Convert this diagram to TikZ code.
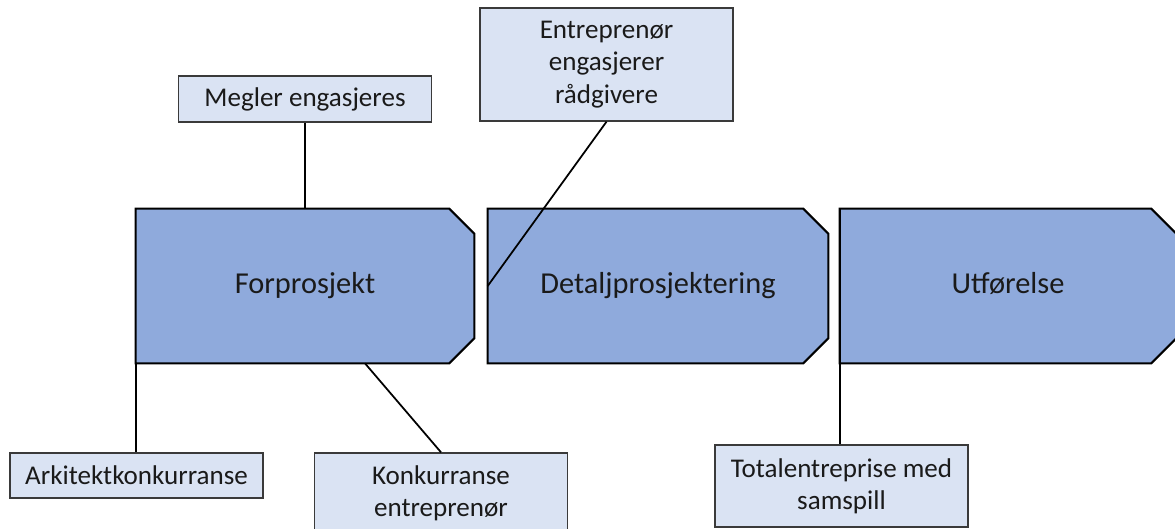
\documentclass[tikz,border=0pt]{standalone}
\usepackage{fontspec}
\setmainfont{Carlito}
\usetikzlibrary{backgrounds}
\definecolor{bigfill}{HTML}{8FAADC}
\definecolor{smallfill}{HTML}{DAE3F3}
\definecolor{txt}{HTML}{1A1A1A}
\definecolor{smallborder}{HTML}{3A3A3A}
\tikzset{
  phase/.style={inner sep=0pt, minimum width=#1, minimum height=3.08cm, text=txt,
    text height=12pt, text depth=3pt,
    font=\fontsize{17.3}{20}\selectfont},
  phaseshape/.style={fill=bigfill, draw=black, line width=1.2pt, line join=miter},
  note/.style={draw=smallborder, fill=smallfill, line width=0.8pt, inner sep=0pt,
    minimum width=5.06cm, align=center, text=txt,
    font=\fontsize{15.4}{18.4}\selectfont},
  link/.style={draw=black, line width=1pt}
}
\newcommand{\phasepath}[1]{%
  \path[phaseshape] (#1.south west) -- (#1.north west) -- ([xshift=-0.5cm]#1.north east)
    -- ([yshift=-0.5cm]#1.north east) -- ([yshift=0.5cm]#1.south east)
    -- ([xshift=-0.5cm]#1.south east) -- cycle;}
\begin{document}
\begin{tikzpicture}[x=0.02cm,y=-0.02cm]
\useasboundingbox (0,0) rectangle (1175,528);
% phases
\node[phase=6.76cm] (box1) at (305,286) {Forprosjekt};
\node[phase=6.80cm] (box2) at (658,286) {Detaljprosjektering};
\node[phase=6.72cm] (box3) at (1008,286) {Utførelse};
\begin{scope}[on background layer]
  \fill[white] (0,0) rectangle (1175,528);
  \phasepath{box1}
  \phasepath{box2}
  \phasepath{box3}
\end{scope}
% notes
\node[note, minimum height=0.92cm] (megler) at (305,99) {Megler engasjeres};
\node[note, minimum height=2.26cm] (entr) at (606.5,64.5) {Entreprenør\\engasjerer\\rådgivere};
\node[note, minimum height=0.90cm] (arki) at (136.5,475.5) {Arkitektkonkurranse};
\node[note, minimum height=1.62cm] (konk) at (441,493.5) {Konkurranse\\entreprenør};
\node[note, minimum height=1.64cm] (total) at (841.5,486) {Totalentreprise med\\samspill};
% connectors
\draw[link] (megler.south) -- (box1.north);
\draw[link] (entr.south) -- (box2.west);
\draw[link] (box1.south west) -- (box1.south west |- arki.north);
\draw[link] ([xshift=1.2cm]box1.south) -- (konk.north);
\draw[link] (box3.south west) -- (box3.south west |- total.north);
\end{tikzpicture}
\end{document}
